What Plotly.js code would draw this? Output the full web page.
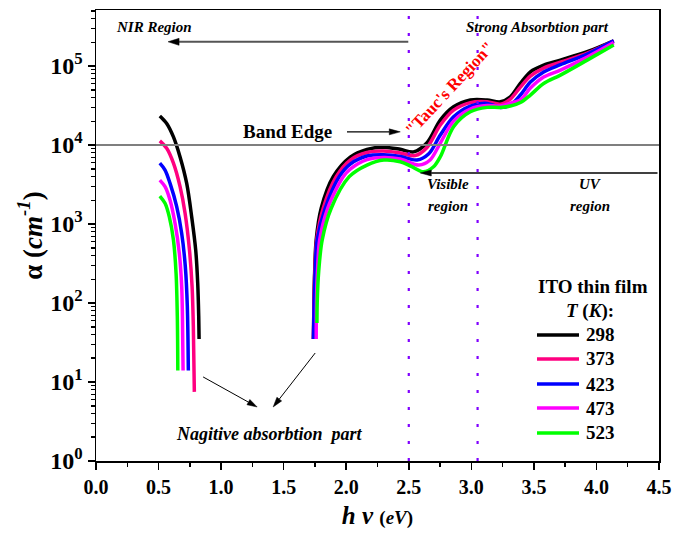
<!DOCTYPE html>
<html>
<head>
<meta charset="utf-8">
<script src="https://cdn.plot.ly/plotly-3.0.1.min.js"></script>
<style>
  html, body { margin: 0; padding: 0; background: #fff; }
  #chart { width: 677px; height: 546px; }
</style>
</head>
<body>
<div id="chart"></div>
<script>
// Film temperatures (K) and their line colours
const temps  = ['298', '373', '423', '473', '523'];
const colors = ['#000000', '#FF0080', '#0000FF', '#FF00FF', '#00FF00'];

// NIR branch (negative absorption part): photon energy hv (eV) and alpha (cm^-1)
const nirE_298 = [0.51, 0.565, 0.619, 0.672, 0.725, 0.765, 0.797, 0.813, 0.821, 0.824];
const nirA_298 = [23400, 18800, 12700, 7080, 3270, 1230, 468, 178, 68, 35];
const nirE_373 = [0.51, 0.565, 0.619, 0.672, 0.712, 0.747, 0.768, 0.778, 0.786];
const nirA_373 = [11300, 9100, 5900, 2970, 1370, 470, 161, 50, 7.5];
const nirE_423 = [0.51, 0.552, 0.592, 0.645, 0.685, 0.714, 0.730, 0.738];
const nirA_423 = [5900, 4830, 3270, 1660, 760, 288, 90, 14];
const nirE_473 = [0.51, 0.552, 0.592, 0.632, 0.666, 0.685, 0.691, 0.696];
const nirA_473 = [3600, 2970, 2000, 1020, 426, 161, 67, 14];
const nirE_523 = [0.51, 0.552, 0.586, 0.619, 0.640, 0.650, 0.654];
const nirA_523 = [2260, 1830, 1230, 627, 238, 67, 14];

// Main absorption branch (band edge, Tauc region, strong absorption)
const absE_298 = [1.738, 1.742, 1.748, 1.760, 1.800, 1.896, 2.032, 2.166, 2.300, 2.432, 2.538, 2.646, 2.752, 2.858, 2.992, 3.126, 3.232, 3.312, 3.392, 3.472, 3.578, 3.712, 3.926, 4.138];
const absA_298 = [35, 100, 251, 631, 1585, 3980, 7050, 8830, 9400, 8830, 8200, 10700, 20700, 30500, 37200, 37200, 35300, 40800, 60300, 84700, 103000, 119000, 152000, 209000];
const absE_373 = [1.738, 1.742, 1.749, 1.764, 1.816, 1.920, 2.032, 2.166, 2.300, 2.432, 2.550, 2.646, 2.752, 2.858, 2.992, 3.126, 3.232, 3.312, 3.392, 3.472, 3.578, 3.712, 3.926, 4.138];
const absA_373 = [35, 100, 251, 631, 1585, 3980, 6460, 8040, 8400, 7930, 7360, 9330, 17900, 27700, 34500, 35300, 33000, 38200, 54200, 74600, 94400, 112000, 146000, 207000];
const absE_423 = [1.738, 1.744, 1.752, 1.768, 1.832, 1.944, 2.032, 2.166, 2.300, 2.432, 2.566, 2.660, 2.752, 2.858, 2.992, 3.126, 3.232, 3.312, 3.392, 3.472, 3.578, 3.712, 3.926, 4.138];
const absA_423 = [35, 100, 251, 631, 1585, 3980, 5750, 7260, 7530, 7150, 6460, 7760, 13400, 22800, 31200, 33700, 30000, 32100, 43000, 62700, 84000, 104000, 142000, 209000];
const absE_473 = [1.760, 1.762, 1.770, 1.788, 1.852, 1.976, 2.032, 2.166, 2.300, 2.432, 2.580, 2.670, 2.752, 2.858, 2.992, 3.126, 3.232, 3.312, 3.392, 3.472, 3.578, 3.712, 3.926, 4.138];
const absA_473 = [35, 100, 251, 631, 1585, 3980, 4970, 6550, 6980, 6650, 5580, 6460, 10600, 20100, 28600, 31600, 31200, 34000, 37200, 52700, 72600, 89100, 130000, 198000];
const absE_523 = [1.766, 1.768, 1.780, 1.808, 1.880, 2.024, 2.166, 2.300, 2.432, 2.520, 2.616, 2.698, 2.752, 2.858, 2.992, 3.126, 3.232, 3.312, 3.392, 3.472, 3.578, 3.712, 3.926, 4.138];
const absA_523 = [56, 100, 251, 631, 1585, 3980, 5580, 6460, 6150, 5370, 4590, 5310, 7110, 17100, 26400, 30000, 30000, 31200, 34500, 43000, 60300, 76900, 119000, 185000];

// Reference levels
const bandEdgeAlpha = 1e4;          // horizontal band-edge line
const regionBounds  = [2.5, 3.05];  // visible-region limits (eV)

// Axis tick labels
const xTicks      = [0, 0.5, 1.0, 1.5, 2.0, 2.5, 3.0, 3.5, 4.0, 4.5];
const yTickVals   = [1, 10, 100, 1000, 10000, 100000];
const yTickLabels = ['10<sup>0</sup>', '10<sup>1</sup>', '10<sup>2</sup>', '10<sup>3</sup>', '10<sup>4</sup>', '10<sup>5</sup>'];

const nirE = [nirE_298, nirE_373, nirE_423, nirE_473, nirE_523];
const nirA = [nirA_298, nirA_373, nirA_423, nirA_473, nirA_523];
const absE = [absE_298, absE_373, absE_423, absE_473, absE_523];
const absA = [absA_298, absA_373, absA_423, absA_473, absA_523];

const FONT = '"Liberation Serif", serif';
const X_RANGE = [0, 4.5];
const Y_RANGE = [0, 5.71];                 // log10 units
const M = { l: 96, r: 18, t: 10, b: 85 };
const W = 677 - M.l - M.r, H = 546 - M.t - M.b;

const traces = [];
[nirE, absE].forEach((E, k) => {
  const A = k === 0 ? nirA : absA;
  temps.forEach((t, i) => traces.push({
    x: E[i], y: A[i], type: 'scatter', mode: 'lines', name: t,
    line: { color: colors[i], width: 3.5, shape: 'spline', smoothing: 0.9 },
    showlegend: false, hoverinfo: 'x+y+name'
  }));
});

// Minor ticks between decades on the log axis
const yMinor = [];
for (let d = 0; d <= 5; d++) for (let m = 2; m <= 9; m++) yMinor.push(m * Math.pow(10, d));

const shapes = [
  { type: 'line', xref: 'paper', yref: 'y', x0: 0, x1: 1, y0: bandEdgeAlpha, y1: bandEdgeAlpha,
    line: { color: '#7f7f7f', width: 2 } }
];
regionBounds.forEach(e => shapes.push({
  type: 'line', xref: 'x', yref: 'paper', x0: e, x1: e, y0: 0, y1: 1,
  line: { color: '#8000FF', width: 2.2, dash: '3px,14px' }
}));

// Arrows: shaft + filled head, given in (eV, alpha) and laid out in paper space
function toPx(e, a) {
  return [(e - X_RANGE[0]) / (X_RANGE[1] - X_RANGE[0]) * W,
          (Math.log10(a) - Y_RANGE[0]) / (Y_RANGE[1] - Y_RANGE[0]) * H];
}
function arrow(e0, a0, e1, a1, color, width, headLen, headW) {
  const p0 = toPx(e0, a0), p1 = toPx(e1, a1);
  const dx = p1[0] - p0[0], dy = p1[1] - p0[1], len = Math.hypot(dx, dy);
  const ux = dx / len, uy = dy / len;
  const bx = p1[0] - ux * headLen, by = p1[1] - uy * headLen;
  const nx = -uy * headW / 2, ny = ux * headW / 2;
  const P = (x, y) => (x / W).toFixed(5) + ',' + (y / H).toFixed(5);
  shapes.push({ type: 'line', xref: 'paper', yref: 'paper',
    x0: p0[0] / W, y0: p0[1] / H, x1: bx / W, y1: by / H, line: { color: color, width: width } });
  shapes.push({ type: 'path', xref: 'paper', yref: 'paper',
    path: 'M' + P(p1[0], p1[1]) + 'L' + P(bx + nx, by + ny) + 'L' + P(bx - nx, by - ny) + 'Z',
    fillcolor: '#000', line: { color: '#000', width: 0.5 } });
}
arrow(2.496, 203000, 0.576, 203000, '#555555', 2, 11, 7);   // towards NIR region
arrow(4.488, 4430, 2.592, 4430, '#000000', 1.3, 11, 6);     // visible / UV boundary
arrow(2.006, 14700, 2.432, 14700, '#000000', 1.3, 11, 6);   // band edge
arrow(0.856, 11.6, 1.288, 4.83, '#000000', 1, 10, 6);       // negative absorption
arrow(1.752, 23.3, 1.416, 4.83, '#000000', 1, 10, 6);

// Manual legend block
const legY = [0.2794, 0.2262, 0.1707, 0.1175, 0.0621];
temps.forEach((t, i) => shapes.push({
  type: 'line', xref: 'paper', yref: 'paper', x0: 0.7833, x1: 0.8579, y0: legY[i], y1: legY[i],
  line: { color: colors[i], width: 3.5 }
}));

const ann = [];
function txt(x, y, text, size, style, color, extra) {
  ann.push(Object.assign({ x: x, y: y, xref: 'x', yref: 'y', xanchor: 'center', yanchor: 'middle',
    text: text, showarrow: false,
    font: { family: FONT, size: size, color: color || '#000', weight: 'bold', style: style || 'normal' } }, extra || {}));
}
txt(0.464, 5.494, 'NIR Region', 15, 'italic');
txt(3.532, 5.494, 'Strong Absorbtion part', 15, 'italic');
txt(1.528, 4.177, 'Band Edge', 19);
txt(2.826, 4.72, '"Tauc\'s Region"', 17, 'normal', '#FF0000', { textangle: -47 });
txt(2.816, 3.506, 'Visible', 15, 'italic');
txt(2.816, 3.228, 'region', 15, 'italic');
txt(3.952, 3.506, 'UV', 15, 'italic');
txt(3.952, 3.228, 'region', 15, 'italic');
txt(1.388, 0.342, 'Nagitive absorbtion\u00a0\u00a0part', 18, 'italic');

// Legend texts
function ptxt(x, y, text, xanchor) {
  ann.push({ x: x, y: y, xref: 'paper', yref: 'paper', xanchor: xanchor, yanchor: 'middle',
    text: text, showarrow: false, font: { family: FONT, size: 19, color: '#000', weight: 'bold' } });
}
ptxt(0.8819, 0.386, 'ITO thin film', 'center');
ptxt(0.8774, 0.332, '<i>T</i> (<i>K</i>):', 'center');
temps.forEach((t, i) => ptxt(0.8668, legY[i], t, 'left'));

const layout = {
  width: 677, height: 546,
  margin: M,
  paper_bgcolor: '#ffffff', plot_bgcolor: '#ffffff',
  showlegend: false,
  font: { family: FONT, color: '#000' },
  xaxis: {
    range: X_RANGE, tickmode: 'array', tickvals: xTicks, ticktext: xTicks.map(v => v.toFixed(1)),
    ticks: 'outside', ticklen: 7, tickwidth: 1.5, tickcolor: '#000',
    showline: true, linewidth: 1.5, linecolor: '#000', mirror: true,
    showgrid: false, zeroline: false,
    tickfont: { family: FONT, size: 20, weight: 'bold', color: '#000' },
    minor: { dtick: 0.25, tick0: 0, ticks: 'outside', ticklen: 4, tickwidth: 1.5, tickcolor: '#000', showgrid: false },
    title: { text: '<i>h ν</i> <span style="font-size:19px">(<i>eV</i>)</span>',
             font: { family: FONT, size: 25, weight: 'bold', color: '#000' }, standoff: 10 }
  },
  yaxis: {
    type: 'log', range: Y_RANGE, tickmode: 'array', tickvals: yTickVals, ticktext: yTickLabels,
    ticks: 'outside', ticklen: 7, tickwidth: 1.5, tickcolor: '#000',
    showline: true, linewidth: 1.5, linecolor: '#000', mirror: true,
    showgrid: false, zeroline: false,
    tickfont: { family: FONT, size: 24, weight: 'bold', color: '#000' },
    minor: { tickmode: 'array', tickvals: yMinor, ticks: 'outside', ticklen: 4, tickwidth: 1.5, tickcolor: '#000', showgrid: false },
    title: { text: 'α (<i>cm</i><sup><i>-1</i></sup>)',
             font: { family: FONT, size: 27, weight: 'bold', color: '#000' }, standoff: 0 }
  },
  shapes: shapes,
  annotations: ann
};

Plotly.newPlot('chart', traces, layout, { displayModeBar: false, staticPlot: true });
</script>
</body>
</html>
